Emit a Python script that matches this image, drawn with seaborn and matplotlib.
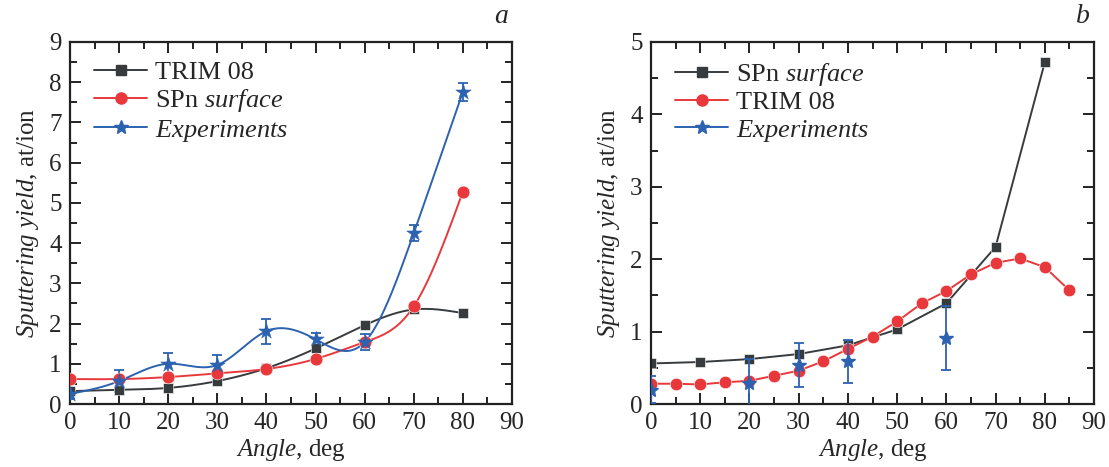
import numpy as np
import pandas as pd
import matplotlib
matplotlib.use("Agg")
import matplotlib.pyplot as plt
from matplotlib.lines import Line2D
from matplotlib.ticker import MultipleLocator
import seaborn as sns

# Panel a data
angle_a = [0, 10, 20, 30, 40, 50, 60, 70, 80]
trim_a = [0.32, 0.35, 0.40, 0.57, 0.89, 1.38, 1.96, 2.35, 2.26]
spn_a = [0.62, 0.62, 0.67, 0.76, 0.87, 1.12, 1.54, 2.43, 5.28]
exp_a = [0.25, 0.57, 1.00, 0.97, 1.81, 1.61, 1.54, 4.25, 7.76]
exp_a_err = [0.12, 0.27, 0.28, 0.25, 0.31, 0.15, 0.20, 0.20, 0.22]

# Panel b data
angle_b_spn = [0, 10, 20, 30, 40, 50, 60, 70, 80]
spn_b = [0.56, 0.58, 0.62, 0.69, 0.81, 1.03, 1.39, 2.17, 4.72]
angle_b_trim = [0, 5, 10, 15, 20, 25, 30, 35, 40, 45, 50, 55, 60, 65, 70, 75, 80, 85]
trim_b = [0.28, 0.28, 0.27, 0.30, 0.32, 0.39, 0.46, 0.59, 0.76, 0.93, 1.14, 1.39,
          1.56, 1.79, 1.95, 2.01, 1.89, 1.57]
angle_b_exp = [0, 20, 30, 40, 60]
exp_b = [0.20, 0.29, 0.54, 0.59, 0.91]
exp_b_err = [0.18, 0.33, 0.30, 0.30, 0.44]

BLACK = "#383b3e"
RED = "#e8383b"
BLUE = "#2c62b0"

sns.set_style("ticks")
plt.rcParams["font.family"] = ["Liberation Serif", "DejaVu Serif"]
plt.rcParams["mathtext.fontset"] = "custom"
plt.rcParams["mathtext.rm"] = "Liberation Serif"
plt.rcParams["mathtext.it"] = "Liberation Serif:italic"
plt.rcParams["axes.linewidth"] = 1.6
plt.rcParams["axes.edgecolor"] = "#222222"


# natural cubic spline, only used to draw the smooth connecting lines (Origin-style)
def spline(x, y, n=400):
    x = np.asarray(x, float)
    y = np.asarray(y, float)
    k = len(x)
    h = np.diff(x)
    A = np.zeros((k, k))
    r = np.zeros(k)
    A[0, 0] = A[-1, -1] = 1
    for i in range(1, k - 1):
        A[i, i - 1] = h[i - 1]
        A[i, i] = 2 * (h[i - 1] + h[i])
        A[i, i + 1] = h[i]
        r[i] = 6 * ((y[i + 1] - y[i]) / h[i] - (y[i] - y[i - 1]) / h[i - 1])
    m = np.linalg.solve(A, r)
    xs = np.linspace(x[0], x[-1], n)
    idx = np.clip(np.searchsorted(x, xs) - 1, 0, k - 2)
    x0, x1 = x[idx], x[idx + 1]
    hh = x1 - x0
    t0, t1 = x1 - xs, xs - x0
    ys = (m[idx] * t0 ** 3 + m[idx + 1] * t1 ** 3) / (6 * hh) \
        + (y[idx] / hh - m[idx] * hh / 6) * t0 \
        + (y[idx + 1] / hh - m[idx + 1] * hh / 6) * t1
    return xs, ys


def style_axes(ax, ymax):
    ax.set_xlim(0, 90)
    ax.set_ylim(0, ymax)
    ax.xaxis.set_major_locator(MultipleLocator(10))
    ax.xaxis.set_minor_locator(MultipleLocator(5))
    ax.yaxis.set_major_locator(MultipleLocator(1))
    ax.yaxis.set_minor_locator(MultipleLocator(0.5))
    ax.tick_params(which="both", direction="in", top=True, right=True,
                   width=1.4, color="#222222", labelsize=18, pad=6)
    ax.tick_params(which="major", length=8)
    ax.tick_params(which="minor", length=5)
    for s in ax.spines.values():
        s.set_visible(True)
    ax.set_xlabel(r"$\mathit{Angle}$, deg", fontsize=18, labelpad=2)
    ax.set_ylabel(r"$\mathit{Sputtering\ yield}$, at/ion", fontsize=18, labelpad=6)


fig = plt.figure(figsize=(11.09, 4.67), dpi=100)
ax1 = fig.add_axes([0.0631, 0.1349, 0.3986, 0.7752])
ax2 = fig.add_axes([0.587, 0.1349, 0.3995, 0.7752])

# ---- panel a
df_a = pd.DataFrame({"angle": angle_a, "trim": trim_a, "spn": spn_a, "exp": exp_a})
for col, c in [("trim", BLACK), ("spn", RED), ("exp", BLUE)]:
    xs, ys = spline(df_a["angle"], df_a[col])
    sns.lineplot(x=xs, y=ys, ax=ax1, color=c, lw=1.4, sort=False)
ax1.errorbar(angle_a, exp_a, yerr=exp_a_err, fmt="none", ecolor=BLUE,
             elinewidth=1.3, capsize=3.5, capthick=1.3, zorder=3)
sns.scatterplot(data=df_a, x="angle", y="trim", ax=ax1, marker="s", s=60,
                color=BLACK, edgecolor="white", linewidth=0.4, zorder=4)
sns.scatterplot(data=df_a, x="angle", y="spn", ax=ax1, marker="o", s=85,
                color=RED, edgecolor="white", linewidth=0.4, zorder=5)
sns.scatterplot(data=df_a, x="angle", y="exp", ax=ax1, marker="*", s=140,
                color=BLUE, edgecolor=BLUE, linewidth=0.3, zorder=6)
style_axes(ax1, 9)

h_a = [Line2D([], [], color=BLACK, lw=1.4, marker="s", ms=7),
       Line2D([], [], color=RED, lw=1.4, marker="o", ms=8),
       Line2D([], [], color=BLUE, lw=1.4, marker="*", ms=10)]
ax1.legend(h_a, ["TRIM 08", r"SPn $\mathit{surface}$", r"$\mathit{Experiments}$"],
           loc="upper left", bbox_to_anchor=(0.055, 0.948), frameon=False,
           fontsize=19, handlelength=2.0, handletextpad=0.3, labelspacing=0.12,
           borderpad=0, borderaxespad=0)
ax1.text(0.975, 1.07, "a", transform=ax1.transAxes, fontsize=20,
         style="italic", ha="center", va="center")

# ---- panel b
df_b1 = pd.DataFrame({"angle": angle_b_spn, "y": spn_b})
df_b2 = pd.DataFrame({"angle": angle_b_trim, "y": trim_b})
sns.lineplot(data=df_b1, x="angle", y="y", ax=ax2, color=BLACK, lw=1.4,
             marker="s", markersize=7, markeredgecolor="white", markeredgewidth=0.4)
sns.lineplot(data=df_b2, x="angle", y="y", ax=ax2, color=RED, lw=1.4,
             marker="o", markersize=9, markeredgecolor="white", markeredgewidth=0.4)
ax2.errorbar(angle_b_exp, exp_b, yerr=exp_b_err, fmt="*", color=BLUE, ms=10,
             elinewidth=1.3, capsize=3.5, capthick=1.3, zorder=6)
style_axes(ax2, 5)

h_b = [Line2D([], [], color=BLACK, lw=1.4, marker="s", ms=7),
       Line2D([], [], color=RED, lw=1.4, marker="o", ms=8),
       Line2D([], [], color=BLUE, lw=1.4, marker="*", ms=10)]
ax2.legend(h_b, [r"SPn $\mathit{surface}$", "TRIM 08", r"$\mathit{Experiments}$"],
           loc="upper left", bbox_to_anchor=(0.055, 0.948), frameon=False,
           fontsize=19, handlelength=2.0, handletextpad=0.3, labelspacing=0.12,
           borderpad=0, borderaxespad=0)
ax2.text(0.975, 1.07, "b", transform=ax2.transAxes, fontsize=20,
         style="italic", ha="center", va="center")

fig.savefig("out.png", dpi=100)
